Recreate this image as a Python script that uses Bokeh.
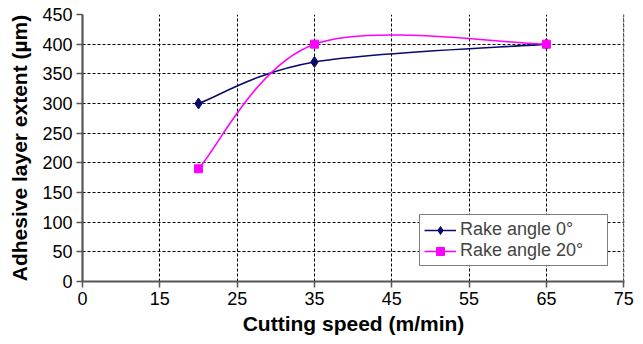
from bokeh.plotting import figure
from bokeh.models import Range1d, FixedTicker, Legend, LegendItem, Span
from bokeh.embed import file_html
from bokeh.resources import INLINE

# ---- data ----
speed = [20, 35, 65]
rake0 = [300, 370, 400]
rake20 = [190, 400, 400]
x_ticks = [5, 15, 25, 35, 45, 55, 65, 75]
x_tick_labels = {5: "0"}
y_ticks = [0, 50, 100, 150, 200, 250, 300, 350, 400, 450]

FONT = "Liberation Sans"


def smooth_segments(xs, ys):
    """Excel-style smoothed line: Catmull-Rom converted to cubic Bezier."""
    n = len(xs)
    out = dict(x0=[], y0=[], x1=[], y1=[], cx0=[], cy0=[], cx1=[], cy1=[])
    for i in range(n - 1):
        pm = i - 1 if i > 0 else 0
        pp = i + 2 if i + 2 < n else n - 1
        out["x0"].append(xs[i]); out["y0"].append(ys[i])
        out["x1"].append(xs[i + 1]); out["y1"].append(ys[i + 1])
        out["cx0"].append(xs[i] + (xs[i + 1] - xs[pm]) / 6)
        out["cy0"].append(ys[i] + (ys[i + 1] - ys[pm]) / 6)
        out["cx1"].append(xs[i + 1] - (xs[pp] - xs[i]) / 6)
        out["cy1"].append(ys[i + 1] - (ys[pp] - ys[i]) / 6)
    return out


p = figure(width=643, height=344, x_range=Range1d(5, 75.1), y_range=Range1d(0, 450),
           output_backend="svg", toolbar_location=None,
           min_border_left=82, min_border_right=19, min_border_top=14, min_border_bottom=63)
p.outline_line_color = None
p.background_fill_color = "white"

navy = "#0a0a6e"
mag = "#ff00ff"

s0 = smooth_segments(speed, rake0)
b0 = p.bezier(line_color=navy, line_width=1.6, **s0)
m0 = p.scatter(speed, rake0, marker="diamond", size=11, fill_color=navy, line_color=navy)
s1 = smooth_segments(speed, rake20)
b1 = p.bezier(line_color=mag, line_width=1.6, **s1)
m1 = p.scatter(speed, rake20, marker="square", size=8, fill_color=mag, line_color=mag)

legend = Legend(items=[LegendItem(label="Rake angle 0°", renderers=[b0, m0]),
                       LegendItem(label="Rake angle 20°", renderers=[b1, m1])],
                location=(337, 15))
legend.label_text_font = FONT
legend.label_text_font_size = "18px"
legend.label_height = 20
legend.glyph_height = 20
legend.glyph_width = 32
legend.label_standoff = 4
legend.label_width = 143
legend.spacing = 0
legend.padding = 4
legend.margin = 0
legend.border_line_color = "black"
legend.border_line_width = 1.2
legend.background_fill_alpha = 1
p.add_layout(legend)

# axes
p.xaxis.ticker = FixedTicker(ticks=x_ticks)
p.xaxis.major_label_overrides = x_tick_labels
p.yaxis.ticker = FixedTicker(ticks=y_ticks)
for ax in (p.xaxis, p.yaxis):
    ax.axis_line_color = "#555555"
    ax.axis_line_width = 2.2
    ax.major_tick_line_color = "#555555"
    ax.major_tick_line_width = 1.5
    ax.major_tick_out = 6
    ax.major_tick_in = 0
    ax.minor_tick_line_color = None
    ax.major_label_text_font = FONT
    ax.major_label_text_font_size = "18px"
    ax.major_label_text_color = "black"
    ax.axis_label_text_font = FONT
    ax.axis_label_text_font_size = "21px"
    ax.axis_label_text_font_style = "bold"
    ax.axis_label_text_color = "black"
p.xaxis.axis_label = "Cutting speed (m/min)"
p.yaxis.axis_label = "Adhesive layer extent (µm)"
p.xaxis.major_label_standoff = 4
p.yaxis.major_label_standoff = 4
p.xaxis.axis_label_standoff = 4
p.yaxis.axis_label_standoff = 8

for g in (p.xgrid, p.ygrid):
    g.grid_line_color = "black"
    g.grid_line_dash = "3 2"
    g.grid_line_width = 1

# dotted right-hand border at the last x tick
p.add_layout(Span(location=x_ticks[-1], dimension="height", line_color="#666666",
                  line_dash="3 2", line_width=1.5))

open("out.html", "w").write(file_html(p, INLINE))
